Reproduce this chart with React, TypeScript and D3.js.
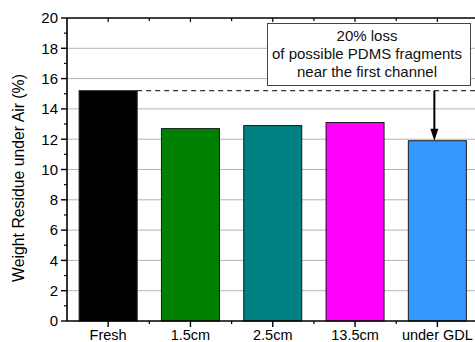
import React from "react";
import * as d3 from "d3";

const categories = ["Fresh", "1.5cm", "2.5cm", "13.5cm", "under GDL"];
const values = [15.2, 12.7, 12.9, 13.1, 11.9];
const colors = ["#000000", "#008000", "#008080", "#ff00ff", "#3399ff"];
const yTicks = [0, 2, 4, 6, 8, 10, 12, 14, 16, 18, 20];
const yMinor = [1, 3, 5, 7, 9, 11, 13, 15, 17, 19];
const referenceValue = 15.2;
const noteLines = ["20% loss", "of possible PDMS fragments", "near the first channel"];

export default function App() {
  const W = 475, H = 342;
  const left = 67, top = 18, bottom = 321;
  const bandW = 82.3;
  const right = left + bandW * categories.length;
  const x = d3.scaleBand<string>().domain(categories).range([left, right]).paddingInner(0.295).paddingOuter(0.1475);
  const y = d3.scaleLinear().domain([0, 20]).range([bottom, top]);
  const font = "'Liberation Sans', Arial, Helvetica, sans-serif";
  const centers = categories.map((c) => (x(c) as number) + x.bandwidth() / 2);
  const boundaries = d3.range(categories.length + 1).map((i) => left + i * bandW);
  const lastC = centers[centers.length - 1];
  const yRef = y(referenceValue);
  const yLast = y(values[values.length - 1]);
  return (
    <svg width={W} height={H} style={{ position: "absolute", left: 0, top: 0 }}>
      <rect width={W} height={H} fill="#fff" />
      {yTicks.filter((t) => t > 0 && t < 20).map((t) => (
        <line key={"g" + t} x1={left} x2={W} y1={y(t)} y2={y(t)} stroke="#b4b4b4" strokeWidth={1} />
      ))}
      {categories.map((c, i) => (
        <rect key={c} x={x(c)} y={y(values[i])} width={x.bandwidth()} height={bottom - y(values[i])}
          fill={colors[i]} stroke="#1a1a1a" strokeWidth={1} />
      ))}
      <line x1={(x("Fresh") as number) + x.bandwidth()} x2={W} y1={yRef} y2={yRef} stroke="#000" strokeWidth={1} strokeDasharray="5,4" />
      {/* annotation */}
      <rect x={267.5} y={23.5} width={203} height={62} fill="#fff" stroke="#444" strokeWidth={1} />
      {noteLines.map((l, i) => (
        <text key={i} x={367} y={40.5 + i * 18.3} textAnchor="middle" fontFamily={font} fontSize={15} fill="#111">{l}</text>
      ))}
      <line x1={lastC - 3} x2={lastC - 3} y1={yRef} y2={yLast - 8} stroke="#000" strokeWidth={2} />
      <path d={`M${lastC - 7},${yLast - 12} L${lastC + 1},${yLast - 12} L${lastC - 3},${yLast} Z`} fill="#000" />
      {/* axes */}
      <line x1={left} x2={left} y1={top} y2={bottom} stroke="#000" strokeWidth={1.6} />
      <line x1={left} x2={W} y1={bottom} y2={bottom} stroke="#000" strokeWidth={1.6} />
      <line x1={left} x2={W} y1={top} y2={top} stroke="#000" strokeWidth={1.6} />
      {yTicks.map((t) => (
        <g key={"t" + t}>
          <line x1={left - 6} x2={left} y1={y(t)} y2={y(t)} stroke="#000" strokeWidth={1.4} />
          <text x={left - 9} y={y(t) + 5.3} textAnchor="end" fontFamily={font} fontSize={15} fill="#000">{t}</text>
        </g>
      ))}
      {yMinor.map((t) => (
        <line key={"m" + t} x1={left - 3} x2={left} y1={y(t)} y2={y(t)} stroke="#000" strokeWidth={1.2} />
      ))}
      {centers.map((cx, i) => (
        <g key={"c" + i}>
          <line x1={cx} x2={cx} y1={bottom} y2={bottom + 6} stroke="#000" strokeWidth={1.4} />
          <line x1={cx} x2={cx} y1={top} y2={top + 4} stroke="#000" strokeWidth={1.2} />
          <text x={cx} y={bottom + 18.5} textAnchor="middle" fontFamily={font} fontSize={14.5} fill="#000">{categories[i]}</text>
        </g>
      ))}
      {boundaries.slice(1).map((bx, i) => (
        <g key={"b" + i}>
          <line x1={bx} x2={bx} y1={bottom} y2={bottom + 3} stroke="#000" strokeWidth={1.2} />
          <line x1={bx} x2={bx} y1={top} y2={top + 3} stroke="#000" strokeWidth={1.2} />
        </g>
      ))}
      <text transform={`translate(${23.5},${178}) rotate(-90)`} textAnchor="middle"
        fontFamily={font} fontSize={15.8} fill="#000">Weight Residue under Air (%)</text>
    </svg>
  );
}
